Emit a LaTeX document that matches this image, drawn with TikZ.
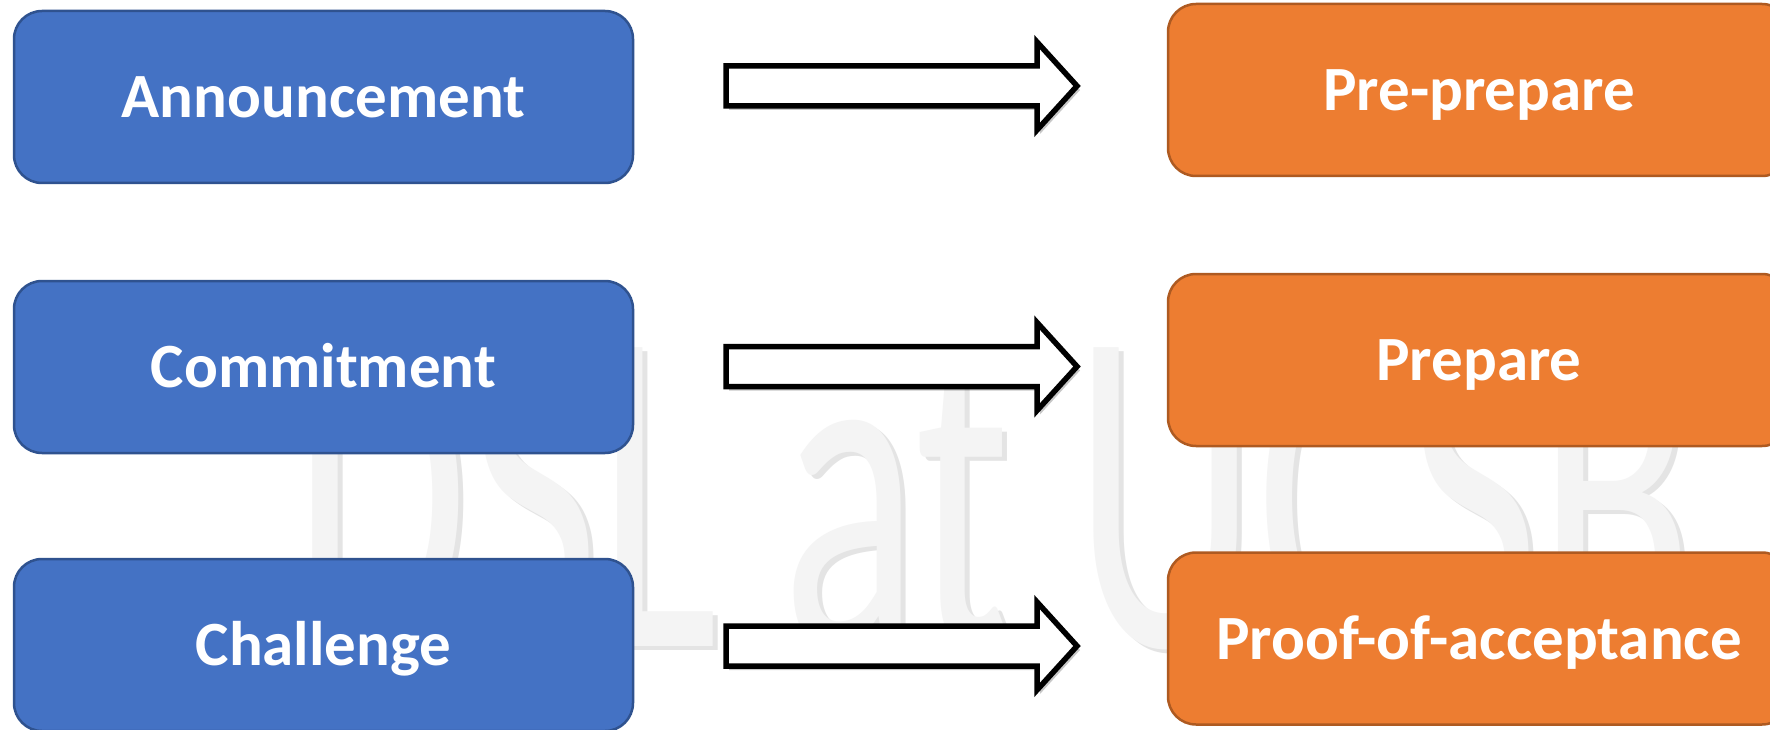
\documentclass[tikz,border=0pt]{standalone}
\usepackage{fontspec}
\setmainfont{Carlito}
\usepackage{graphicx}
\usetikzlibrary{shadows}
\definecolor{cblue}{HTML}{4472C4}
\definecolor{cblueline}{HTML}{2F528F}
\definecolor{corange}{HTML}{ED7D31}
\definecolor{corangeline}{HTML}{AE5A21}
\definecolor{wmfill}{HTML}{F4F4F4}
\definecolor{wmshade}{HTML}{E4E4E4}
\begin{document}
\begin{tikzpicture}[x=1pt,y=-1pt,
  stagebox/.style={rounded corners=28pt, line width=2.5pt, minimum height=172pt,
    text=white, font=\fontsize{63}{70}\selectfont\bfseries,
    text height=41pt, text depth=0pt, inner sep=0pt},
  bluebox/.style={stagebox, fill=cblue, draw=cblueline, minimum width=619pt},
  orangebox/.style={stagebox, fill=corange, draw=corangeline, minimum width=622pt},
  wmtext/.style={anchor=base, inner sep=0pt, font=\fontsize{284}{300}\selectfont},
  arrowline/.style={draw=black, fill=white, line width=5.5pt, line join=miter,
    drop shadow={shadow xshift=3pt, shadow yshift=-4pt, opacity=0.22, fill=black}},
  blockarrow/.pic={\path[arrowline] (0,-20) -- (311,-20) -- (311,-44) -- (351,0)
      -- (311,44) -- (311,20) -- (0,20) -- cycle;}
]
\useasboundingbox (0,0) rectangle (1770,730);
\clip (0,0) rectangle (1770,730);
\fill[white] (0,0) rectangle (1770,730);

% watermark
\node[wmtext, text=wmshade] (wmshadow) at (999,650) {\scalebox{1}[1.64]{DSL at UCSB}};
\node[wmtext, text=wmfill] (wm) at (994,646) {\scalebox{1}[1.64]{DSL at UCSB}};

% left column
\node[bluebox] (ann) at (323.5,97) {Announcement};
\node[bluebox] (com) at (323.5,367) {Commitment};
\node[bluebox] (cha) at (323.5,645) {Challenge};

% right column
\node[orangebox] (pre) at (1479,90) {Pre-prepare};
\node[orangebox] (prep) at (1479,360) {Prepare};
\node[orangebox] (poa) at (1479,638.5) {Proof-of-acceptance};

% block arrows
\coordinate (a1) at (726,86);
\coordinate (a2) at (726,366.5);
\coordinate (a3) at (726,646);
\pic at (a1) {blockarrow};
\pic at (a2) {blockarrow};
\pic at (a3) {blockarrow};
\end{tikzpicture}
\end{document}
